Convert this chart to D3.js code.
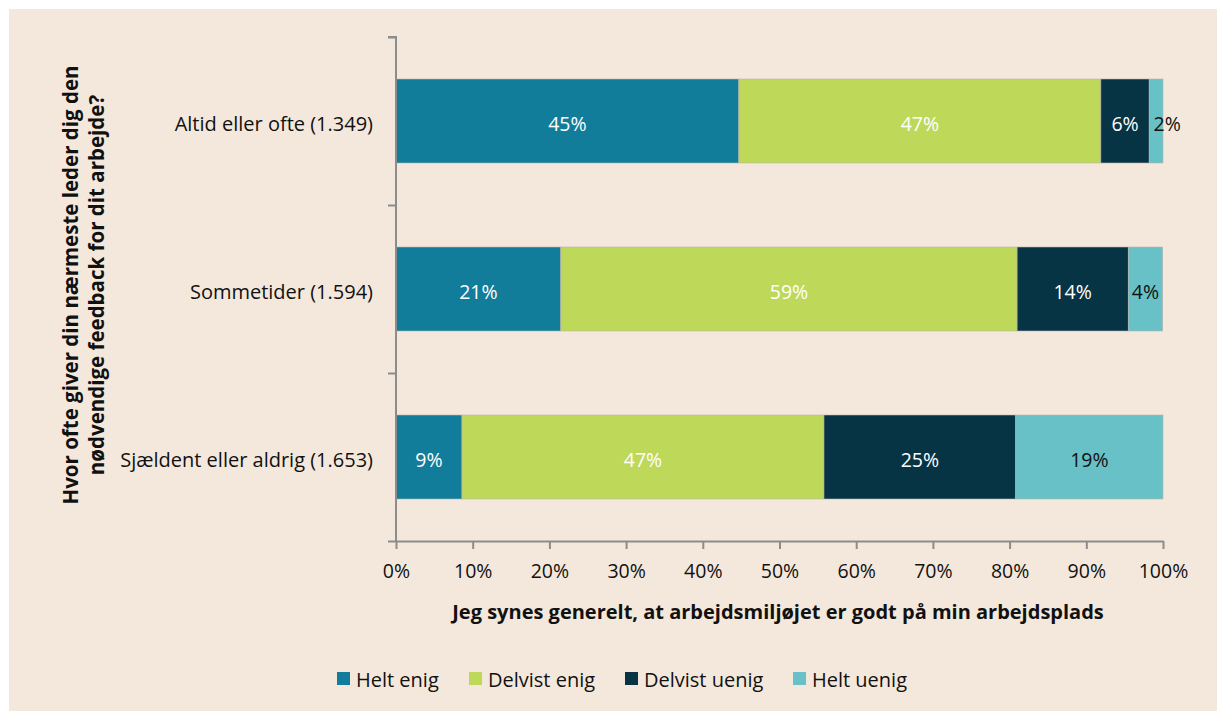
<!DOCTYPE html>
<html>
<head>
<meta charset="utf-8">
<script src="https://cdn.jsdelivr.net/npm/d3@7"></script>
<style>
  body { margin: 0; background: #fff; }
  svg { display: block; font-family: "Open Sans", sans-serif; }
</style>
</head>
<body>
<div id="container"></div>
<script>
const width = 1217;
const height = 711;

const categories = ["Altid eller ofte (1.349)", "Sommetider (1.594)", "Sjældent eller aldrig (1.653)"];
const seriesNames = ["Helt enig", "Delvist enig", "Delvist uenig", "Helt uenig"];
const heltEnig = [44.7, 21.49, 8.6];
const delvistEnig = [47.2, 59.49, 47.2];
const delvistUenig = [6.3, 14.49, 25.0];
const heltUenig = [1.8, 4.49, 19.2];
const xTicks = [0, 10, 20, 30, 40, 50, 60, 70, 80, 90, 100];

const colors = ["#117d9a", "#bed85a", "#063444", "#68c1c6"];
const labelColors = ["#fff", "#fff", "#fff", "#111"];

const rows = categories.map((c, i) => ({
    cat: c,
    vals: [heltEnig[i], delvistEnig[i], delvistUenig[i], heltUenig[i]]
}));

const plot = { left: 396, right: 1163, top: 37, bottom: 541 };

const svg = d3.select("#container").append("svg")
    .attr("width", width)
    .attr("height", height);

// beige panel
svg.append("rect")
    .attr("x", 9).attr("y", 9)
    .attr("width", width - 9).attr("height", height - 9)
    .attr("fill", "#f4e8dc");

const xScale = d3.scaleLinear().domain([0, 100]).range([plot.left, plot.right]);
const yScale = d3.scaleBand().domain(categories).range([plot.top, plot.bottom]).paddingInner(0.5).paddingOuter(0.25);

// bars
const groups = svg.selectAll("g.row")
    .data(rows)
    .enter().append("g")
    .attr("class", "row");

groups.each(function (d) {
    let acc = 0;
    const segs = d.vals.map((v, k) => {
        const s = { x0: acc, x1: acc + v, v: v, k: k };
        acc += v;
        return s;
    });
    const g = d3.select(this);
    g.selectAll("rect")
        .data(segs)
        .enter().append("rect")
        .attr("x", s => xScale(s.x0))
        .attr("y", yScale(d.cat))
        .attr("width", s => xScale(s.x1) - xScale(s.x0))
        .attr("height", yScale.bandwidth())
        .attr("fill", s => colors[s.k])
        .attr("stroke", "#b9b4ad")
        .attr("stroke-width", 0.6);
    g.selectAll("text")
        .data(segs)
        .enter().append("text")
        .attr("x", s => s.k === 3 && s.v < 3 ? xScale(s.x0) + 18 : (xScale(s.x0) + xScale(s.x1)) / 2)
        .attr("y", yScale(d.cat) + yScale.bandwidth() / 2)
        .attr("dy", "0.5em")
        .attr("text-anchor", "middle")
        .attr("font-size", 19.5)
        .attr("fill", s => labelColors[s.k])
        .text(s => Math.round(s.v) + "%");
});

// y axis (category boundaries as ticks)
const yBound = d3.scaleLinear().domain([0, categories.length]).range([plot.top, plot.bottom]);
const yAxis = svg.append("g")
    .attr("transform", "translate(" + plot.left + ",0)")
    .call(d3.axisLeft(yBound).tickValues([0, 1, 2, 3]).tickSize(8).tickFormat(""));
yAxis.selectAll("path, line").attr("stroke", "#8c8c8c").attr("stroke-width", 2);
yAxis.select("path").attr("d", "M-8," + plot.top + "H0V" + plot.bottom);

// category labels
svg.selectAll("text.cat")
    .data(categories)
    .enter().append("text")
    .attr("class", "cat")
    .attr("x", 373)
    .attr("y", d => yScale(d) + yScale.bandwidth() / 2)
    .attr("dy", "0.5em")
    .attr("text-anchor", "end")
    .attr("font-size", 20)
    .attr("fill", "#111")
    .text(d => d);

// x axis
const xAxis = svg.append("g")
    .attr("transform", "translate(0," + plot.bottom + ")")
    .call(d3.axisBottom(xScale).tickValues(xTicks).tickSize(8).tickSizeOuter(0).tickFormat(d => d + "%"));
xAxis.selectAll("path, line").attr("stroke", "#8c8c8c").attr("stroke-width", 2);
xAxis.selectAll("text")
    .attr("font-size", 19.5)
    .attr("font-family", "Open Sans, sans-serif")
    .attr("fill", "#111")
    .attr("dy", "1.35em");

// x title
svg.append("text")
    .attr("x", 778)
    .attr("y", 619)
    .attr("text-anchor", "middle")
    .attr("font-size", 20)
    .attr("font-weight", "bold")
    .attr("fill", "#111")
    .text("Jeg synes generelt, at arbejdsmiljøjet er godt på min arbejdsplads");

// y title
const yTitle = svg.append("text")
    .attr("transform", "translate(78,285) rotate(-90)")
    .attr("text-anchor", "middle")
    .attr("font-size", 20.5)
    .attr("font-weight", "bold")
    .attr("fill", "#111");
yTitle.append("tspan").attr("x", 0).attr("dy", 0)
    .text("Hvor ofte giver din nærmeste leder dig den");
yTitle.append("tspan").attr("x", 0).attr("dy", 26)
    .text("nødvendige feedback for dit arbejde?");

// legend
const legendX = [337, 469, 625, 793];
const legend = svg.selectAll("g.legend")
    .data(seriesNames)
    .enter().append("g")
    .attr("class", "legend")
    .attr("transform", (d, i) => "translate(" + legendX[i] + ",672)");
legend.append("rect")
    .attr("width", 13).attr("height", 13)
    .attr("fill", (d, i) => colors[i]);
legend.append("text")
    .attr("x", 19)
    .attr("y", 6.5)
    .attr("dy", "0.4em")
    .attr("font-size", 20)
    .attr("fill", "#111")
    .text(d => d);
</script>
</body>
</html>
